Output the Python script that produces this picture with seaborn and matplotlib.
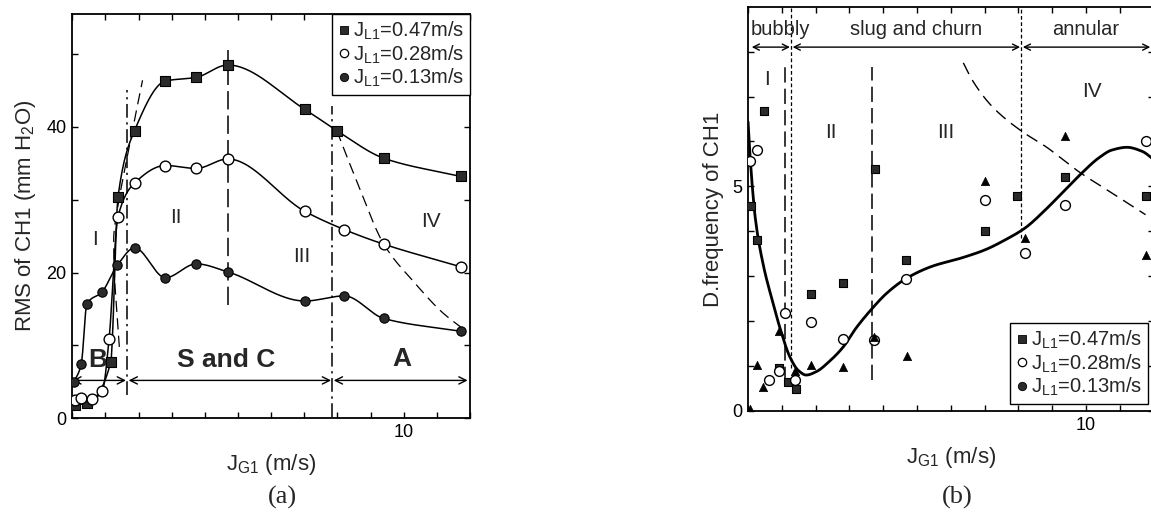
import numpy as np
import pandas as pd
import matplotlib
matplotlib.use("Agg")
import matplotlib.pyplot as plt
import seaborn as sns
from matplotlib.lines import Line2D

# ---------------- data ----------------
# panel (a): RMS of CH1
a_sq_x = [0.07, 0.45, 1.16, 1.38, 1.88, 2.81, 3.74, 4.69, 7.02, 7.98, 9.40, 11.72]
a_sq_y = [1.8, 2.1, 7.7, 30.4, 39.5, 46.3, 46.8, 48.5, 42.4, 39.5, 35.7, 33.2]
a_oc_x = [0.07, 0.25, 0.61, 0.91, 1.11, 1.38, 1.88, 2.81, 3.74, 4.69, 7.02, 8.21, 9.40, 11.72]
a_oc_y = [2.5, 2.8, 2.7, 3.8, 10.9, 27.7, 32.3, 34.7, 34.3, 35.6, 28.4, 25.9, 23.9, 20.8]
a_fc_x = [0.05, 0.27, 0.44, 0.89, 1.36, 1.88, 2.81, 3.74, 4.69, 7.02, 8.21, 9.40, 11.72]
a_fc_y = [4.95, 7.4, 15.7, 17.3, 21.0, 23.4, 19.3, 21.2, 20.1, 16.1, 16.8, 13.7, 11.95]
# dashed transition curves in (a)
a_trans_y = [9.8, 14.4, 19.9, 24.5, 29.0, 32.7, 37.3, 41.9, 46.4]
a_trans_x = [1.42, 1.35, 1.27, 1.25, 1.37, 1.52, 1.72, 1.92, 2.12]
a_ann_x = [7.98, 8.65, 9.40, 10.35, 11.15, 11.90]
a_ann_y = [39.5, 31.8, 23.9, 18.5, 14.6, 11.9]

# panel (b): D.frequency of CH1
b_sq_x = [0.10, 0.27, 0.46, 0.93, 1.19, 1.42, 1.87, 2.81, 3.75, 4.68, 7.00, 7.96, 9.37, 11.76]
b_sq_y = [4.56, 3.80, 6.67, 0.95, 0.65, 0.48, 2.61, 2.84, 5.39, 3.37, 4.00, 4.78, 5.20, 4.78]
b_oc_x = [0.07, 0.27, 0.63, 0.93, 1.09, 1.39, 1.86, 2.80, 3.74, 4.68, 7.00, 8.19, 9.37, 11.76]
b_oc_y = [5.56, 5.80, 0.68, 0.88, 2.18, 0.68, 1.99, 1.60, 1.58, 2.94, 4.70, 3.52, 4.59, 6.01]
b_tr_x = [0.06, 0.28, 0.45, 0.91, 1.39, 1.86, 2.80, 3.72, 4.69, 7.00, 8.19, 9.37, 11.76]
b_tr_y = [0.05, 1.03, 0.53, 1.78, 0.88, 1.03, 0.99, 1.65, 1.22, 5.11, 3.85, 6.13, 3.48]
# fitted solid curve in (b)
b_fit_x = [0, 0.07, 0.22, 0.46, 0.71, 0.96, 1.24, 1.49, 1.72, 2.03, 2.40, 2.81, 3.20, 3.67,
           4.10, 4.68, 5.44, 6.33, 7.02, 7.61, 8.19, 8.80, 9.39, 9.88, 10.37, 10.77, 11.21, 11.66, 12.0]
b_fit_y = [6.44, 5.56, 4.26, 3.22, 2.48, 1.81, 1.20, 0.90, 0.80, 0.88, 1.10, 1.42, 1.85, 2.28,
           2.62, 2.95, 3.22, 3.41, 3.59, 3.81, 4.07, 4.48, 4.93, 5.30, 5.63, 5.81, 5.87, 5.78, 5.60]
# dashed curve in (b)
b_dash_x = [6.37, 6.63, 7.22, 8.11, 8.80, 9.78, 10.77, 11.76]
b_dash_y = [7.75, 7.37, 6.78, 6.22, 5.89, 5.33, 4.85, 4.37]

legend_labels = ["0.47", "0.28", "0.13"]

# ---------------- helpers ----------------
def pchip(x, y, num=400):
    x = np.asarray(x, float)
    y = np.asarray(y, float)
    h = np.diff(x)
    d = np.diff(y) / h
    m = np.zeros_like(y)
    for k in range(1, len(x) - 1):
        if d[k - 1] * d[k] > 0:
            w1 = 2 * h[k] + h[k - 1]
            w2 = h[k] + 2 * h[k - 1]
            m[k] = (w1 + w2) / (w1 / d[k - 1] + w2 / d[k])
    m[0] = d[0]
    m[-1] = d[-1]
    xs = np.linspace(x[0], x[-1], num)
    idx = np.clip(np.searchsorted(x, xs) - 1, 0, len(h) - 1)
    t = (xs - x[idx]) / h[idx]
    h00 = 2 * t**3 - 3 * t**2 + 1
    h10 = t**3 - 2 * t**2 + t
    h01 = -2 * t**3 + 3 * t**2
    h11 = t**3 - t**2
    ys = h00 * y[idx] + h10 * h[idx] * m[idx] + h01 * y[idx + 1] + h11 * h[idx] * m[idx + 1]
    return xs, ys


def smooth_line(ax, x, y, **kw):
    xs, ys = pchip(x, y)
    sns.lineplot(x=xs, y=ys, ax=ax, sort=False, estimator=None, legend=False, **kw)


def darrow(ax, x0, x1, y, ms=13):
    ax.annotate("", xy=(x1, y), xytext=(x0, y),
                arrowprops=dict(arrowstyle="<->", lw=1.0, color="black",
                                shrinkA=0, shrinkB=0, mutation_scale=ms))


# ---------------- style ----------------
sns.set_theme(style="ticks")
plt.rcParams["font.family"] = ["Liberation Sans", "DejaVu Sans"]
plt.rcParams["mathtext.default"] = "regular"
plt.rcParams["axes.linewidth"] = 1.3

SQ_FC = "#2b2b2b"

fig = plt.figure(figsize=(11.51, 5.14), dpi=100)
axA = fig.add_axes([0.0628, 0.1862, 0.3455, 0.7866])
axB = fig.add_axes([0.6499, 0.2004, 0.3524, 0.7866])

# ================= panel (a) =================
for xs_, ys_ in [(a_sq_x, a_sq_y), (a_oc_x, a_oc_y), (a_fc_x, a_fc_y)]:
    smooth_line(axA, xs_, ys_, color="black", lw=1.1)

# dashed transition curves
ty, tx = pchip(a_trans_y, a_trans_x)
sns.lineplot(x=tx, y=ty, ax=axA, sort=False, estimator=None, legend=False,
             color="black", lw=0.9, dashes=False, linestyle=(0, (9, 5)))
ax_, ay_ = pchip(a_ann_x, a_ann_y)
sns.lineplot(x=ax_, y=ay_, ax=axA, sort=False, estimator=None, legend=False,
             color="black", lw=0.9, linestyle=(0, (9, 5)))

# regime boundaries
axA.plot([1.66, 1.66], [3.2, 45.0], color="black", lw=1.1, ls=(0, (9, 3, 1.5, 3)))
axA.plot([7.85, 7.85], [0.2, 42.9], color="black", lw=1.1, ls=(0, (9, 3, 1.5, 3)))
axA.plot([4.69, 4.69], [15.5, 50.5], color="black", lw=1.1, ls=(0, (12, 4)))

sns.scatterplot(x=a_sq_x, y=a_sq_y, ax=axA, marker="s", s=50, color=SQ_FC,
                edgecolor="black", linewidth=0.8, zorder=4, legend=False)
sns.scatterplot(x=a_oc_x, y=a_oc_y, ax=axA, marker="o", s=60, color="white",
                edgecolor="black", linewidth=1.0, zorder=4, legend=False)
sns.scatterplot(x=a_fc_x, y=a_fc_y, ax=axA, marker="o", s=45, color=SQ_FC,
                edgecolor="black", linewidth=0.8, zorder=4, legend=False)

darrow(axA, 0.0, 1.62, 5.2)
darrow(axA, 1.70, 7.81, 5.2)
darrow(axA, 7.89, 11.93, 5.2)

axA.text(0.78, 8.0, "B", fontsize=19, fontweight="bold", ha="center", va="center")
axA.text(4.64, 8.0, "S and C", fontsize=19, fontweight="bold", ha="center", va="center")
axA.text(9.95, 8.2, "A", fontsize=19, fontweight="bold", ha="center", va="center")
for tx_, ty_, s_ in [(0.70, 24.5, "I"), (3.14, 27.6, "II"), (6.92, 22.2, "III"), (10.83, 27.0, "IV")]:
    axA.text(tx_, ty_, s_, fontsize=15, ha="center", va="center")

axA.set_xlim(0, 12)
axA.set_ylim(0, 55.5)
axA.set_xticks(range(0, 13))
axA.set_xticklabels(["10" if v == 10 else "" for v in range(0, 13)])
axA.set_yticks(range(0, 51, 10))
axA.set_yticklabels(["0", "", "20", "", "40", ""])
axA.set_xlabel(r"J$_{G1}$ (m/s)", fontsize=16, labelpad=8)
axA.set_ylabel(r"RMS of CH1 (mm H$_2$O)", fontsize=16, labelpad=6)

# ================= panel (b) =================
fx, fy = pchip(b_fit_x, b_fit_y)
sns.lineplot(x=fx, y=fy, ax=axB, sort=False, estimator=None, legend=False,
             color="black", lw=2.0)
dx, dy = pchip(b_dash_x, b_dash_y)
sns.lineplot(x=dx, y=dy, ax=axB, sort=False, estimator=None, legend=False,
             color="black", lw=1.0, linestyle=(0, (9, 5)))

axB.plot([1.10, 1.10], [0.65, 7.65], color="black", lw=1.1, ls=(0, (10, 4)))
axB.plot([3.67, 3.67], [0.70, 7.65], color="black", lw=1.1, ls=(0, (10, 4)))
axB.plot([1.28, 1.28], [0.95, 9.0], color="black", lw=0.9, ls=(0, (3, 2)))
axB.plot([8.09, 8.09], [3.85, 9.0], color="black", lw=0.9, ls=(0, (3, 2)))

sns.scatterplot(x=b_sq_x, y=b_sq_y, ax=axB, marker="s", s=36, color=SQ_FC,
                edgecolor="black", linewidth=0.8, zorder=4, legend=False)
sns.scatterplot(x=b_oc_x, y=b_oc_y, ax=axB, marker="o", s=50, color="white",
                edgecolor="black", linewidth=1.0, zorder=4, legend=False)
sns.scatterplot(x=b_tr_x, y=b_tr_y, ax=axB, marker="^", s=36, color="black",
                edgecolor="black", linewidth=0.5, zorder=4, legend=False)

darrow(axB, 0.11, 1.24, 8.1, ms=11)
darrow(axB, 1.32, 8.05, 8.1, ms=11)
darrow(axB, 8.13, 11.90, 8.1, ms=11)
axB.text(0.97, 8.5, "bubbly", fontsize=14.5, ha="center", va="center")
axB.text(4.97, 8.5, "slug and churn", fontsize=14.5, ha="center", va="center")
axB.text(10.0, 8.5, "annular", fontsize=14.5, ha="center", va="center")
for tx_, ty_, s_ in [(0.55, 7.38, "I"), (2.44, 6.19, "II"), (5.84, 6.19, "III"), (10.18, 7.11, "IV")]:
    axB.text(tx_, ty_, s_, fontsize=15, ha="center", va="center")

axB.set_xlim(0, 12)
axB.set_ylim(0, 9)
axB.set_xticks(range(0, 13))
axB.set_xticklabels(["10" if v == 10 else "" for v in range(0, 13)])
axB.set_yticks(range(0, 9))
axB.set_yticklabels(["0" if v == 0 else ("5" if v == 5 else "") for v in range(0, 9)])
axB.set_xlabel(r"J$_{G1}$ (m/s)", fontsize=16, labelpad=8)
axB.set_ylabel("D.frequency of CH1", fontsize=16, labelpad=6)

# ---------------- common axis styling ----------------
for ax in (axA, axB):
    ax.tick_params(direction="in", length=4, width=1.0, top=True, right=True,
                   labelsize=13, colors="black", pad=4)
    for sp in ax.spines.values():
        sp.set_visible(True)
        sp.set_color("black")
        sp.set_linewidth(1.3)

def legend_handles():
    return [
        Line2D([], [], ls="none", marker="s", ms=6, mfc=SQ_FC, mec="black", mew=0.6,
               label=r"J$_{L1}$=%sm/s" % legend_labels[0]),
        Line2D([], [], ls="none", marker="o", ms=6, mfc="white", mec="black", mew=0.9,
               label=r"J$_{L1}$=%sm/s" % legend_labels[1]),
        Line2D([], [], ls="none", marker="o", ms=6, mfc=SQ_FC, mec="black", mew=0.6,
               label=r"J$_{L1}$=%sm/s" % legend_labels[2]),
    ]

for ax, anchor in ((axA, (1.0, 1.0)), (axB, (0.986, 0.017))):
    loc = "upper right" if ax is axA else "lower right"
    leg = ax.legend(handles=legend_handles(), loc=loc, bbox_to_anchor=anchor,
                    fontsize=14.5, frameon=True, fancybox=False, framealpha=1,
                    edgecolor="black", borderaxespad=0, handlelength=0.6,
                    handletextpad=0.15, labelspacing=0.05, borderpad=0.3)
    leg.get_frame().set_linewidth(1.0)
    leg.set_zorder(10)

fig.text(0.245, 0.033, "(a)", fontsize=19, family="Liberation Serif", ha="center", va="center")
fig.text(0.8315, 0.033, "(b)", fontsize=19, family="Liberation Serif", ha="center", va="center")

fig.savefig("out.png", dpi=100)
